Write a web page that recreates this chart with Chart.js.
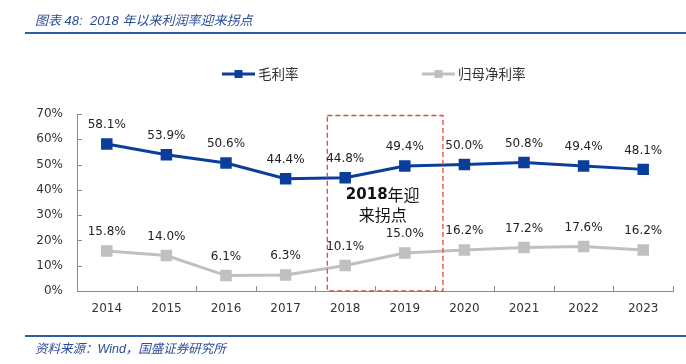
<!DOCTYPE html>
<html>
<head>
<meta charset="utf-8">
<script src="https://cdn.jsdelivr.net/npm/chart.js@4"></script>
<style>
  html, body { margin: 0; padding: 0; background: #fff; }
  #wrap { position: relative; width: 686px; height: 364px; overflow: hidden; }
  #c { position: absolute; left: 0; top: 0; }
  .title { position: absolute; left: 35px; top: 10px; font: italic 13px "Liberation Sans", "Noto Sans CJK SC", sans-serif; color: #2B4C9B; white-space: nowrap; }
  .rule { position: absolute; left: 25px; right: 0; height: 2px; background: #2E5CA6; }
  .src { position: absolute; left: 35px; top: 338px; font: italic 12.5px "Liberation Sans", "Noto Sans CJK SC", sans-serif; color: #2B4C9B; white-space: nowrap; }
</style>
</head>
<body>
<div id="wrap">
  <canvas id="c" width="686" height="364"></canvas>
  <div class="title">图表 48:&nbsp; 2018 年以来利润率迎来拐点</div>
  <div class="rule" style="top:32px"></div>
  <div class="rule" style="top:335px"></div>
  <div class="src">资料来源：Wind，国盛证券研究所</div>
</div>
<script>
const years = ["2014","2015","2016","2017","2018","2019","2020","2021","2022","2023"];
const grossMargin = [58.1, 53.9, 50.6, 44.4, 44.8, 49.4, 50.0, 50.8, 49.4, 48.1];
const netMargin = [15.8, 14.0, 6.1, 6.3, 10.1, 15.0, 16.2, 17.2, 17.6, 16.2];
const seriesNames = ["毛利率", "归母净利率"];
const yTicks = [0, 10, 20, 30, 40, 50, 60, 70];

const BLUE = "#0B3E9B";
const GREY = "#C0C0C0";
const AXIS = "#8C8C8C";

const decoPlugin = {
  id: "deco",
  afterDatasetsDraw(chart) {
    const ctx = chart.ctx;
    const xs = chart.scales.x, ys = chart.scales.y;
    const area = chart.chartArea;
    ctx.save();
    // tick marks (inside)
    ctx.strokeStyle = AXIS;
    ctx.lineWidth = 1;
    ctx.beginPath();
    yTicks.forEach(v => {
      const y = Math.round(ys.getPixelForValue(v)) + 0.5;
      ctx.moveTo(area.left, y); ctx.lineTo(area.left + 5, y);
    });
    for (let i = 0; i <= years.length; i++) {
      const x = Math.round(xs.getPixelForValue(i - 0.5)) + 0.5;
      ctx.moveTo(x, area.bottom); ctx.lineTo(x, area.bottom - 5);
    }
    ctx.stroke();

    // dashed highlight box
    const bx1 = xs.getPixelForValue(3.7), bx2 = xs.getPixelForValue(5.64);
    const by1 = ys.getPixelForValue(69.4), by2 = ys.getPixelForValue(0);
    ctx.setLineDash([5, 3]);
    ctx.strokeStyle = "#E8473D";
    ctx.lineWidth = 1.3;
    ctx.strokeRect(bx1, by1, bx2 - bx1, by2 - by1);
    ctx.setLineDash([]);

    // annotation text
    const cx = xs.getPixelForValue(4.63);
    ctx.fillStyle = "#111";
    ctx.textBaseline = "middle";
    const boldF = "bold 15px 'DejaVu Sans', sans-serif";
    const cjkF = "16px 'Noto Sans CJK SC', sans-serif";
    ctx.font = boldF; const w1 = ctx.measureText("2018").width;
    ctx.font = cjkF; const w2 = ctx.measureText("年迎").width;
    const l1y = ys.getPixelForValue(38);
    let sx = cx - (w1 + w2) / 2;
    ctx.textAlign = "left";
    ctx.font = boldF; ctx.fillText("2018", sx, l1y);
    ctx.font = cjkF; ctx.fillText("年迎", sx + w1, l1y);
    ctx.textAlign = "center";
    ctx.fillText("来拐点", cx, ys.getPixelForValue(30));

    // data labels
    ctx.font = "12px 'DejaVu Sans', sans-serif";
    ctx.fillStyle = "#222";
    ctx.textAlign = "center";
    chart.data.datasets.forEach((ds, di) => {
      const meta = chart.getDatasetMeta(di);
      meta.data.forEach((pt, i) => {
        ctx.fillText(ds.data[i].toFixed(1) + "%", pt.x, pt.y - 19);
      });
    });

    // legend
    const legendItems = [
      { x: 222, color: BLUE, label: seriesNames[0] },
      { x: 422, color: GREY, label: seriesNames[1] }
    ];
    const ly = 74;
    legendItems.forEach(it => {
      ctx.strokeStyle = it.color;
      ctx.lineWidth = 3;
      ctx.beginPath(); ctx.moveTo(it.x, ly); ctx.lineTo(it.x + 33, ly); ctx.stroke();
      ctx.fillStyle = it.color;
      ctx.fillRect(it.x + 12.5, ly - 4, 8, 8);
      ctx.fillStyle = "#333";
      ctx.font = "13.5px 'Noto Sans CJK SC', sans-serif";
      ctx.textAlign = "left";
      ctx.fillText(it.label, it.x + 36, ly);
    });
    ctx.restore();
  }
};

new Chart(document.getElementById("c"), {
  type: "line",
  data: {
    labels: years,
    datasets: [
      { label: seriesNames[0], data: grossMargin, borderColor: BLUE, backgroundColor: BLUE,
        borderWidth: 3, pointStyle: "rect", pointRadius: 6, pointHoverRadius: 6, tension: 0 },
      { label: seriesNames[1], data: netMargin, borderColor: GREY, backgroundColor: GREY,
        borderWidth: 3, pointStyle: "rect", pointRadius: 6, pointHoverRadius: 6, tension: 0 }
    ]
  },
  options: {
    responsive: false,
    devicePixelRatio: 1,
    animation: false,
    events: [],
    layout: { padding: { left: 0, right: 13, top: 114, bottom: 0 } },
    plugins: { legend: { display: false }, tooltip: { enabled: false }, title: { display: false } },
    scales: {
      x: {
        offset: true,
        grid: { display: false, drawTicks: false },
        border: { display: true, color: AXIS, width: 1 },
        ticks: { color: "#333", font: { family: "'DejaVu Sans', sans-serif", size: 12 }, padding: 11, maxRotation: 0 },
        afterFit(s) { s.height = 73; }
      },
      y: {
        min: 0, max: 70,
        grid: { display: false, drawTicks: false },
        border: { display: true, color: AXIS, width: 1 },
        afterBuildTicks(s) { s.ticks = yTicks.map(v => ({ value: v })); },
        ticks: { color: "#333", font: { family: "'DejaVu Sans', sans-serif", size: 12 }, padding: 14,
                 callback: v => v + "%" },
        afterFit(s) { s.width = 77; }
      }
    }
  },
  plugins: [decoPlugin]
});
</script>
</body>
</html>
